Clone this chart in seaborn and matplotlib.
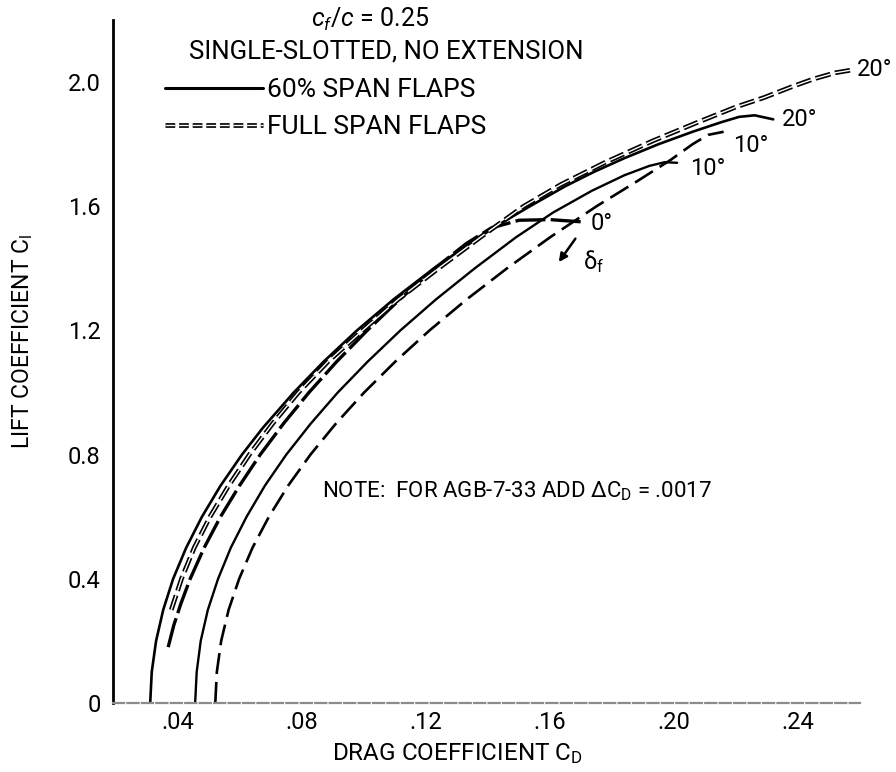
import matplotlib
matplotlib.use("Agg")
import matplotlib.pyplot as plt
import matplotlib.patheffects as pe
from matplotlib.lines import Line2D
import seaborn as sns

# ---------------- data ----------------
x_ticks = [0.04, 0.08, 0.12, 0.16, 0.20, 0.24]
x_tick_labels = [".04", ".08", ".12", ".16", ".20", ".24"]
y_ticks = [0.0, 0.4, 0.8, 1.2, 1.6, 2.0]
y_tick_labels = ["0", "0.4", "0.8", "1.2", "1.6", "2.0"]

# solid (60% span) curve ending at 20 deg
cl_a = [0.00, 0.10, 0.20, 0.30, 0.40, 0.50, 0.60, 0.70, 0.80, 0.887, 1.00, 1.10, 1.20,
        1.30, 1.40, 1.50, 1.55, 1.60, 1.665, 1.71, 1.755, 1.80, 1.84, 1.87, 1.888,
        1.893, 1.880]
cd_a = [0.0310, 0.0315, 0.0329, 0.0352, 0.0384, 0.0426, 0.0477, 0.0537, 0.0606, 0.0674,
        0.0773, 0.0870, 0.0977, 0.1095, 0.1225, 0.1370, 0.1450, 0.1535, 0.1650, 0.1740,
        0.1840, 0.1950, 0.2060, 0.2150, 0.2210, 0.2260, 0.2320]

# heavy dashed curve ending at 0 deg
cl_b = [0.18, 0.25, 0.32, 0.40, 0.50, 0.60, 0.70, 0.80, 0.90, 1.00, 1.10, 1.20, 1.30,
        1.40, 1.48, 1.53, 1.555, 1.557, 1.550]
cd_b = [0.0368, 0.0386, 0.0409, 0.0439, 0.0484, 0.0537, 0.0598, 0.0665, 0.0740, 0.0822,
        0.0912, 0.1010, 0.1115, 0.1228, 0.1330, 0.1410, 0.1500, 0.1600, 0.1700]

# full span dashed curve ending at 20 deg
cl_c = [0.30, 0.40, 0.50, 0.60, 0.70, 0.80, 0.90, 1.00, 1.10, 1.20, 1.30, 1.40, 1.50,
        1.60, 1.67, 1.74, 1.81, 1.87, 1.92, 1.95, 1.985, 2.01, 2.03, 2.04]
cd_c = [0.0378, 0.0411, 0.0452, 0.0503, 0.0563, 0.0630, 0.0705, 0.0788, 0.0884, 0.0995,
        0.1110, 0.1240, 0.1375, 0.1515, 0.1635, 0.1775, 0.1930, 0.2075, 0.2200, 0.2290,
        0.2380, 0.2450, 0.2520, 0.2580]

# solid curve ending at 10 deg
cl_d = [0.00, 0.10, 0.20, 0.30, 0.40, 0.50, 0.60, 0.70, 0.80, 0.90, 1.00, 1.10, 1.20,
        1.30, 1.40, 1.50, 1.58, 1.65, 1.70, 1.73, 1.742, 1.740]
cd_d = [0.0455, 0.0460, 0.0473, 0.0496, 0.0529, 0.0570, 0.0621, 0.0680, 0.0749, 0.0828,
        0.0915, 0.1012, 0.1117, 0.1232, 0.1357, 0.1490, 0.1610, 0.1735, 0.1840, 0.1920,
        0.1970, 0.2010]

# dashed curve ending at 10 deg
cl_e = [0.00, 0.10, 0.20, 0.30, 0.40, 0.50, 0.60, 0.70, 0.80, 0.90, 1.00, 1.10, 1.20,
        1.30, 1.40, 1.50, 1.60, 1.68, 1.75, 1.80, 1.83, 1.840]
cd_e = [0.0520, 0.0525, 0.0539, 0.0563, 0.0597, 0.0640, 0.0693, 0.0755, 0.0827, 0.0909,
        0.1000, 0.1101, 0.1211, 0.1331, 0.1461, 0.1600, 0.1750, 0.1880, 0.1990, 0.2060,
        0.2110, 0.2160]

end_labels = ["20°", "0°", "20°", "10°", "10°"]

# ---------------- styling ----------------
sns.set_theme(style="white")
FONT = ["Roboto", "DejaVu Sans"]
plt.rcParams["font.family"] = FONT
plt.rcParams["mathtext.fontset"] = "custom"
plt.rcParams["mathtext.rm"] = "Roboto"
plt.rcParams["mathtext.it"] = "Roboto:italic"
for k in ["text.color", "axes.labelcolor", "xtick.color", "ytick.color"]:
    plt.rcParams[k] = "black"

fig = plt.figure(figsize=(8.96, 7.72), dpi=100)
ax = fig.add_axes([113 / 896, 1 - 703 / 772, 747 / 896, 683 / 772])
ax.set_xlim(0.019, 0.26)
ax.set_ylim(0, 2.2)

hollow = [pe.Stroke(linewidth=3.4, foreground="black"), pe.Normal()]

styles = [
    dict(color="black", lw=1.9, linestyle="-"),
    dict(color="black", lw=2.4, linestyle=(0, (9, 1.6))),
    dict(color="white", lw=1.0, linestyle=(0, (11, 3.5)), path_effects=hollow),
    dict(color="black", lw=1.7, linestyle="-"),
    dict(color="black", lw=1.9, linestyle=(0, (8, 3))),
]
curves = [(cd_a, cl_a), (cd_b, cl_b), (cd_c, cl_c), (cd_d, cl_d), (cd_e, cl_e)]
label_offsets = [(9, 0), (10, -2), (3, 0), (13, -6), (9, -14)]

for (cd, cl), st, lab, off in zip(curves, styles, end_labels, label_offsets):
    sns.lineplot(x=cd, y=cl, ax=ax, sort=False, estimator=None, **st)
    ax.annotate(lab, xy=(cd[-1], cl[-1]), xytext=off, textcoords="offset pixels",
                ha="left", va="center", fontsize=17, color="black")

# delta_f arrow
ax.annotate("", xy=(0.1623, 1.413), xytext=(0.1687, 1.503),
            arrowprops=dict(arrowstyle="-|>", color="black", lw=1.8, mutation_scale=12))
ax.text(0.1706, 1.4226, "δ$_{\\mathrm{f}}$", fontsize=17, ha="left", va="center")

# spines / ticks
sns.despine(ax=ax, top=True, right=True)
ax.spines["left"].set_color("black")
ax.spines["left"].set_linewidth(2.0)
ax.spines["bottom"].set_color("#8c8c8c")
ax.spines["bottom"].set_linewidth(1.6)
ax.spines["bottom"].set_linestyle((0, (5, 1.5)))

ax.set_xticks(x_ticks)
ax.set_xticklabels(x_tick_labels)
ax.set_yticks(y_ticks)
ax.set_yticklabels(y_tick_labels)
ax.tick_params(axis="x", direction="in", length=11, width=1.6, color="black",
               labelsize=17, pad=6)
ax.tick_params(axis="y", direction="in", length=5, width=1.0, color="black",
               labelsize=17, pad=9)
ax.grid(False)

ax.set_xlabel("DRAG COEFFICIENT C$_{\\mathrm{D}}$", fontsize=17.5)
ax.xaxis.set_label_coords((457 - 113) / 747, (703 - 741) / 683)
ax.set_ylabel("LIFT COEFFICIENT C$_{\\mathrm{l}}$", fontsize=16.5)
ax.yaxis.set_label_coords((35 - 113) / 747, (703 - 341) / 683)

# header texts
fig.text(370 / 896, 1 - 19 / 772, "$c_f/c$ = 0.25", fontsize=18, ha="center", va="center")
fig.text(386 / 896, 1 - 52 / 772, "SINGLE-SLOTTED, NO EXTENSION", fontsize=18.5,
         ha="center", va="center")

# legend
handles = [Line2D([], [], color="black", lw=2.2),
           Line2D([], [], color="white", lw=1.0, linestyle=(0, (7, 2.8)),
                  path_effects=hollow)]
ax.legend(handles, ["60% SPAN FLAPS", "FULL SPAN FLAPS"], loc="upper left",
          bbox_to_anchor=(165 / 896, 1 - 78 / 772), bbox_transform=fig.transFigure,
          frameon=False, fontsize=19, handlelength=3.7, handletextpad=0.15,
          labelspacing=0.5, borderpad=0, borderaxespad=0)

# note
ax.text((322 - 54) / 3100, (703 - 492) / 310,
        "NOTE:  FOR AGB-7-33 ADD ΔC$_{\\mathrm{D}}$ = .0017",
        fontsize=16, ha="left", va="center")

fig.savefig("out.png", dpi=100)
